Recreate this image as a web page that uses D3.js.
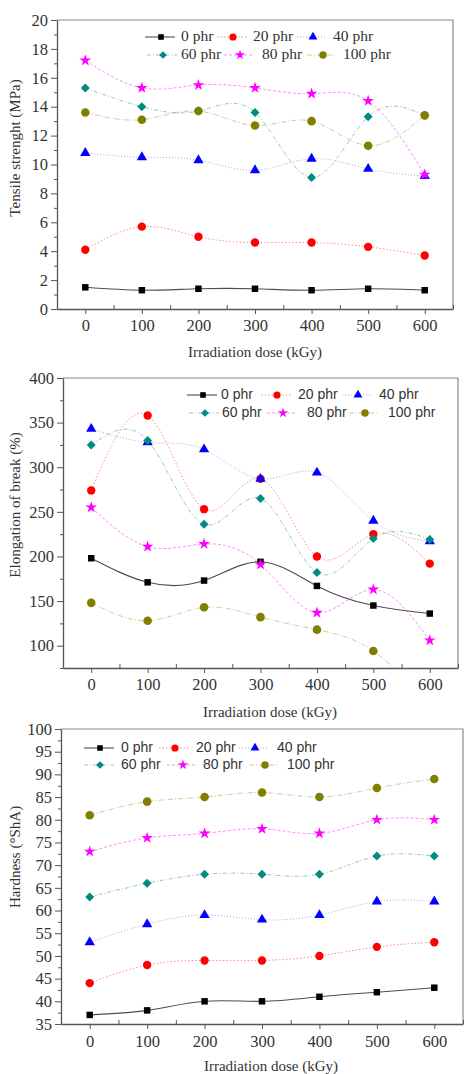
<!DOCTYPE html>
<html>
<head>
<meta charset="utf-8">
<script src="https://cdn.jsdelivr.net/npm/d3@7"></script>
<style>
  body { margin: 0; background: #fff; }
  svg { display: block; }
</style>
</head>
<body>
<div id="chart"></div>
<script>
// irradiation dose, kGy
var doses = [0, 100, 200, 300, 400, 500, 600];
var seriesNames = ["0 phr", "20 phr", "40 phr", "60 phr", "80 phr", "100 phr"];

// tensile strength (MPa), one row per filler loading
var tensile = [
  [1.5, 1.3, 1.4, 1.4, 1.3, 1.4, 1.3],
  [4.1, 5.7, 5.0, 4.6, 4.6, 4.3, 3.7],
  [10.8, 10.5, 10.3, 9.6, 10.4, 9.7, 9.2],
  [15.3, 14.0, 13.7, 13.6, 9.1, 13.3, 13.4],
  [17.2, 15.3, 15.5, 15.3, 14.9, 14.4, 9.3],
  [13.6, 13.1, 13.7, 12.7, 13.0, 11.3, 13.4]
];

// elongation at break (%)
var elongation = [
  [198, 171, 173, 194, 167, 145, 136],
  [274, 358, 253, 287, 200, 225, 192],
  [343, 328, 320, 287, 294, 240, 217],
  [325, 330, 236, 265, 182, 220, 219],
  [255, 211, 214, 191, 137, 163, 106],
  [148, 128, 143, 132, 118, 94, 30]
];

// hardness (Shore A)
var hardness = [
  [37, 38, 40, 40, 41, 42, 43],
  [44, 48, 49, 49, 50, 52, 53],
  [53, 57, 59, 58, 59, 62, 62],
  [63, 66, 68, 68, 68, 72, 72],
  [73, 76, 77, 78, 77, 80, 80],
  [81, 84, 85, 86, 85, 87, 89]
];

var styles = [
  { color: "#000000", symbol: d3.symbolSquare,   size: 42, rot: 0,  dash: null,      width: 1.1, opacity: 0.7 },
  { color: "#ff0000", symbol: d3.symbolCircle,   size: 55, rot: 0,  dash: "1.5,2",   width: 1,   opacity: 0.45 },
  { color: "#0000ff", symbol: d3.symbolTriangle, size: 46, rot: 0,  dash: "1,2",     width: 1,   opacity: 0.35 },
  { color: "#008b80", symbol: d3.symbolSquare,   size: 40, rot: 45, dash: "4,2,1,2", width: 1,   opacity: 0.45 },
  { color: "#ff00ff", symbol: d3.symbolStar,     size: 42, rot: 0,  dash: "3,2",     width: 1,   opacity: 0.45 },
  { color: "#808000", symbol: d3.symbolCircle,   size: 58, rot: 0,  dash: "5,2,1,2", width: 1,   opacity: 0.4 }
];

var W = 467, H = 1074;
var svg = d3.select("#chart").append("svg")
  .attr("width", W)
  .attr("height", H);

var serif = "'Liberation Serif', 'DejaVu Serif', serif";
var sans = "'Liberation Sans', Arial, sans-serif";

var panels = [
  {
    id: "p1", values: tensile, left: 57, right: 453, top: 20, bottom: 309,
    yDomain: [0, 20], yMajor: 2, yMinor: 1,
    yTitle: "Tensile strenght (MPa)", yTitleY: 148,
    xLabelY: 327, xTitleX: 255, xTitleY: 357,
    legendFont: serif,
    legend: [[161, 37, 181], [233, 37, 253], [313, 37, 333],
             [163, 55, 181], [240, 55, 262], [323, 55, 343]]
  },
  {
    id: "p2", values: elongation, left: 63, right: 458, top: 378, bottom: 668,
    yDomain: [75, 400], yMajor: 50, yMinor: 25, yStart: 100,
    yTitle: "Elongation of break (%)", yTitleY: 505,
    xLabelY: 686, xTitleX: 270, xTitleY: 717,
    legendFont: sans,
    legend: [[203, 395, 221], [277, 395, 298], [358, 395, 379],
             [205, 413, 222], [283, 413, 307], [365, 413, 388]]
  },
  {
    id: "p3", values: hardness, left: 61, right: 463, top: 729, bottom: 1024,
    yDomain: [35, 100], yMajor: 5, yMinor: 2.5,
    yTitle: "Hardness (°ShA)", yTitleY: 857,
    xLabelY: 1043, xTitleX: 271, xTitleY: 1071,
    legendFont: sans,
    legend: [[100, 748, 121], [175, 748, 196], [255, 748, 277],
             [100, 765, 121], [183, 765, 203], [265, 765, 287]]
  }
];

panels.forEach(drawPanel);

function drawPanel(p) {
  var g = svg.append("g").attr("class", p.id);

  var x = d3.scaleLinear().domain([-50, 650]).range([p.left, p.right]);
  var y = d3.scaleLinear().domain(p.yDomain).range([p.bottom, p.top]);

  // frame top / right
  g.append("path")
    .attr("d", "M" + p.left + "," + p.top + "H" + p.right + "V" + p.bottom)
    .attr("fill", "none")
    .attr("stroke", "#8a8a8a")
    .attr("stroke-width", 1.2);

  // x axis
  var xMajor = d3.range(0, 601, 100);
  var xMinor = d3.range(-50, 651, 100);
  var xAxis = g.append("g")
    .attr("transform", "translate(0," + p.bottom + ")")
    .call(d3.axisBottom(x).tickValues(xMajor).tickSize(5).tickPadding(6).tickSizeOuter(0));
  g.append("g")
    .attr("transform", "translate(0," + p.bottom + ")")
    .call(d3.axisBottom(x).tickValues(xMinor).tickSize(-4).tickFormat("").tickSizeOuter(0))
    .select(".domain").remove();
  xAxis.selectAll("text").attr("dy", null).attr("y", p.xLabelY - p.bottom).attr("dominant-baseline", "middle");

  // y axis
  var y0 = p.yStart !== undefined ? p.yStart : p.yDomain[0];
  var yMajor = d3.range(y0, p.yDomain[1] + 0.001, p.yMajor);
  var yMinor = d3.range(p.yDomain[0], p.yDomain[1] + 0.001, p.yMinor)
    .filter(function(v) { return yMajor.indexOf(v) < 0; });
  g.append("g")
    .attr("transform", "translate(" + p.left + ",0)")
    .call(d3.axisLeft(y).tickValues(yMajor).tickSize(6).tickPadding(3).tickSizeOuter(0));
  g.append("g")
    .attr("transform", "translate(" + p.left + ",0)")
    .call(d3.axisLeft(y).tickValues(yMinor).tickSize(3).tickFormat("").tickSizeOuter(0))
    .select(".domain").remove();

  g.selectAll(".domain").attr("stroke", "#555").attr("stroke-width", 1.3);
  g.selectAll(".tick line").attr("stroke", "#555").attr("stroke-width", 1);
  g.selectAll(".tick text")
    .style("font-family", serif)
    .style("font-size", "16.5px")
    .attr("fill", "#333");

  // titles
  g.append("text")
    .attr("x", p.xTitleX)
    .attr("y", p.xTitleY)
    .attr("text-anchor", "middle")
    .style("font-family", serif)
    .style("font-size", "15px")
    .attr("fill", "#333")
    .text("Irradiation dose (kGy)");

  g.append("text")
    .attr("transform", "translate(17," + p.yTitleY + ") rotate(-90)")
    .attr("text-anchor", "middle")
    .attr("dominant-baseline", "middle")
    .style("font-family", serif)
    .style("font-size", "15px")
    .attr("fill", "#333")
    .text(p.yTitle);

  // clip for curves
  svg.append("clipPath")
    .attr("id", "clip-" + p.id)
    .append("rect")
    .attr("x", p.left).attr("y", p.top)
    .attr("width", p.right - p.left).attr("height", p.bottom - p.top);

  var line = d3.line()
    .x(function(d, i) { return x(doses[i]); })
    .y(function(d) { return y(d); })
    .curve(d3.curveNatural);

  var series = g.append("g").attr("clip-path", "url(#clip-" + p.id + ")");

  p.values.forEach(function(vals, k) {
    var s = styles[k];
    series.append("path")
      .datum(vals)
      .attr("d", line)
      .attr("fill", "none")
      .attr("stroke", s.color)
      .attr("stroke-width", s.width)
      .attr("stroke-opacity", s.opacity)
      .attr("stroke-dasharray", s.dash);
  });

  p.values.forEach(function(vals, k) {
    var s = styles[k];
    series.selectAll(".m" + k)
      .data(vals)
      .enter().append("path")
      .attr("class", "m" + k)
      .attr("transform", function(d, i) {
        return "translate(" + x(doses[i]) + "," + y(d) + ") rotate(" + s.rot + ")";
      })
      .attr("d", d3.symbol().type(s.symbol).size(s.size))
      .attr("fill", s.color);
  });

  // legend
  var leg = g.append("g").attr("class", "legend");
  seriesNames.forEach(function(name, k) {
    var s = styles[k];
    var pos = p.legend[k];
    leg.append("line")
      .attr("x1", pos[0] - 16).attr("x2", pos[0] + 14)
      .attr("y1", pos[1]).attr("y2", pos[1])
      .attr("stroke", s.color)
      .attr("stroke-width", s.width)
      .attr("stroke-opacity", s.opacity)
      .attr("stroke-dasharray", s.dash);
    leg.append("path")
      .attr("transform", "translate(" + pos[0] + "," + pos[1] + ") rotate(" + s.rot + ")")
      .attr("d", d3.symbol().type(s.symbol).size(s.size * 0.75))
      .attr("fill", s.color);
    leg.append("text")
      .attr("x", pos[2])
      .attr("y", pos[1])
      .attr("dominant-baseline", "middle")
      .style("font-family", p.legendFont)
      .style("font-size", p.legendFont === serif ? "15.5px" : "14px")
      .attr("fill", "#333")
      .text(name);
  });
}
</script>
</body>
</html>
